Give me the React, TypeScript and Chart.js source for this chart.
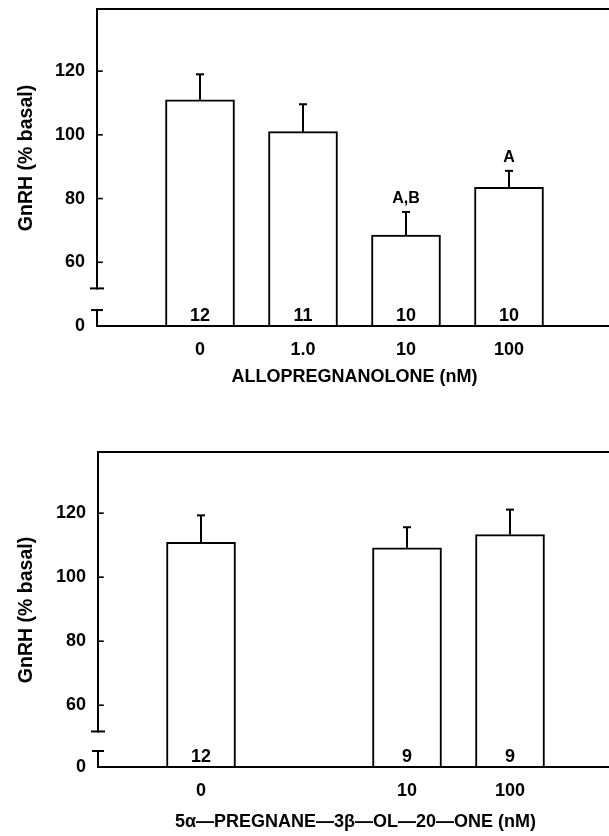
import React, { useEffect, useRef } from 'react';
import { Chart, registerables } from 'chart.js';

Chart.register(...registerables);

// ---------- data ----------
const TOP_CATEGORIES = ['', '0', '1.0', '10', '100', ''];
const TOP_MEANS = [null, 111, 101, 68.5, 83.5, null];
const TOP_SEM = [null, 8, 8.6, 7.3, 5.2, null];
const TOP_N = ['', '12', '11', '10', '10', ''];
const TOP_SIG = ['', '', '', 'A,B', 'A', ''];
const TOP_XTITLE = 'ALLOPREGNANOLONE (nM)';

const BOT_CATEGORIES = ['', '0', '', '10', '100', ''];
const BOT_MEANS = [null, 110.9, null, 109.2, 113.3, null];
const BOT_SEM = [null, 8.4, null, 6.4, 7.8, null];
const BOT_N = ['', '12', '', '9', '9', ''];
const BOT_SIG = ['', '', '', '', '', ''];
const BOT_XTITLE = '5α—PREGNANE—3β—OL—20—ONE (nM)';

const Y_TICKS = [0, 60, 80, 100, 120];
const Y_TITLE = 'GnRH (% basal)';
const BREAK_LOW = 5; // top of the lower axis segment
const BREAK_HIGH = 51.8; // bottom of the upper axis segment

const FONT = "'Liberation Sans', Arial, sans-serif";
const WEIGHT = 'bold';

type Panel = {
  categories: string[];
  means: (number | null)[];
  sem: (number | null)[];
  n: string[];
  sig: string[];
  xTitle: string;
  shift: number;
  yMax: number;
  width: number;
  height: number;
  areaLeft: number;
  areaTop: number;
  xAxisHeight: number;
  titlePadBottom: number;
  yTitleX: number;
  yTitleY: number;
  top: number;
};

const PANELS: Panel[] = [
  {
    categories: TOP_CATEGORIES, means: TOP_MEANS, sem: TOP_SEM, n: TOP_N, sig: TOP_SIG,
    xTitle: TOP_XTITLE, shift: 40, yMax: 139.5,
    width: 612, height: 418, areaLeft: 97, areaTop: 9, xAxisHeight: 92, titlePadBottom: 30,
    yTitleX: 27, yTitleY: 158, top: 0,
  },
  {
    categories: BOT_CATEGORIES, means: BOT_MEANS, sem: BOT_SEM, n: BOT_N, sig: BOT_SIG,
    xTitle: BOT_XTITLE, shift: 40.7, yMax: 139.1,
    width: 613, height: 418, areaLeft: 98, areaTop: 34, xAxisHeight: 69, titlePadBottom: 3.5,
    yTitleX: 27, yTitleY: 192, top: 418,
  },
];

const brokenAxisPlugin = {
  id: 'brokenAxis',
  afterDatasetsDraw(chart: any, _args: any, opts: any) {
    const p: Panel = opts.panel;
    const { ctx, chartArea, scales } = chart;
    const y = scales.y;
    const toAx = (v: number) => (v <= BREAK_LOW ? v : v - p.shift);
    const ax = chartArea.left;
    const line = (x1: number, y1: number, x2: number, y2: number) => {
      ctx.beginPath();
      ctx.moveTo(x1, y1);
      ctx.lineTo(x2, y2);
      ctx.stroke();
    };
    ctx.save();
    ctx.strokeStyle = '#000';
    ctx.fillStyle = '#000';
    ctx.lineCap = 'square';
    ctx.lineWidth = 2;
    line(ax, chartArea.top, chartArea.right, chartArea.top);
    line(ax, chartArea.bottom, chartArea.right, chartArea.bottom);
    const yHigh = y.getPixelForValue(toAx(BREAK_HIGH));
    const yLow = y.getPixelForValue(toAx(BREAK_LOW));
    line(ax, chartArea.top, ax, yHigh);
    line(ax, yLow, ax, chartArea.bottom);
    line(ax - 6, yHigh, ax + 6, yHigh);
    line(ax - 5, yLow, ax + 5, yLow);
    ctx.lineWidth = 1.6;
    Y_TICKS.filter((v) => v > BREAK_HIGH).forEach((v) => {
      const py = y.getPixelForValue(toAx(v));
      line(ax, py, ax + 5, py);
    });
    const meta = chart.getDatasetMeta(0);
    meta.data.forEach((el: any, i: number) => {
      const m = p.means[i];
      const s = p.sem[i];
      if (m == null || s == null) return;
      const yErr = y.getPixelForValue(toAx(m + s));
      ctx.lineWidth = 2;
      ctx.lineCap = 'butt';
      line(el.x, el.y, el.x, yErr);
      line(el.x - 4, yErr, el.x + 4, yErr);
      ctx.textAlign = 'center';
      ctx.textBaseline = 'alphabetic';
      ctx.font = `${WEIGHT} 18px ${FONT}`;
      if (p.n[i]) ctx.fillText(p.n[i], el.x, chartArea.bottom - 5.5);
      if (p.sig[i]) {
        ctx.font = `${WEIGHT} 16px ${FONT}`;
        ctx.fillText(p.sig[i], el.x, yErr - 9);
      }
    });
    ctx.translate(p.yTitleX, p.yTitleY);
    ctx.rotate(-Math.PI / 2);
    ctx.textAlign = 'center';
    ctx.textBaseline = 'middle';
    ctx.font = `${WEIGHT} 19.5px ${FONT}`;
    ctx.fillText(Y_TITLE, 0, 0);
    ctx.restore();
  },
};

const zeroPadding = (scale: any) => {
  scale.paddingLeft = 0;
  scale.paddingRight = 0;
  scale.paddingTop = 0;
  scale.paddingBottom = 0;
};

function PanelChart({ p }: { p: Panel }) {
  const ref = useRef<HTMLCanvasElement | null>(null);
  useEffect(() => {
    if (!ref.current) return;
    const toAx = (v: number) => (v <= BREAK_LOW ? v : v - p.shift);
    const chart = new Chart(ref.current, {
      type: 'bar',
      data: {
        labels: p.categories,
        datasets: [
          {
            data: p.means.map((m) => (m == null ? null : toAx(m))) as any,
            backgroundColor: '#fff',
            borderColor: '#000',
            borderWidth: 2,
            borderSkipped: 'start',
            barThickness: 69,
          },
        ],
      },
      options: {
        animation: false,
        responsive: false,
        devicePixelRatio: 1,
        events: [],
        layout: { padding: { top: p.areaTop, left: 0, right: 0, bottom: 0 } },
        plugins: {
          legend: { display: false },
          tooltip: { enabled: false },
          brokenAxis: { panel: p },
        } as any,
        scales: {
          x: {
            type: 'category',
            offset: false,
            grid: { display: false, drawTicks: false },
            border: { display: false },
            ticks: {
              color: '#000',
              font: { family: FONT, size: 18, weight: WEIGHT },
              padding: 13,
              maxRotation: 0,
              autoSkip: false,
            },
            title: {
              display: true,
              text: p.xTitle,
              color: '#000',
              font: { family: FONT, size: 18, weight: WEIGHT },
              padding: { top: 0, bottom: p.titlePadBottom },
            },
            afterFit: (scale: any) => {
              scale.height = p.xAxisHeight;
              zeroPadding(scale);
            },
          },
          y: {
            type: 'linear',
            min: 0,
            max: toAx(p.yMax),
            grid: { display: false, drawTicks: false },
            border: { display: false },
            ticks: {
              color: '#000',
              font: { family: FONT, size: 18, weight: WEIGHT },
              padding: 12,
              callback: (_v: any, idx: number) => String(Y_TICKS[idx]),
            },
            afterBuildTicks: (scale: any) => {
              scale.ticks = Y_TICKS.map((v) => ({ value: toAx(v) }));
            },
            afterFit: (scale: any) => {
              scale.width = p.areaLeft;
              zeroPadding(scale);
            },
          },
        },
      },
      plugins: [brokenAxisPlugin],
    });
    return () => chart.destroy();
  }, [p]);
  return (
    <canvas
      ref={ref}
      width={p.width}
      height={p.height}
      style={{ position: 'absolute', left: 0, top: p.top, width: p.width, height: p.height }}
    />
  );
}

export default function App() {
  return (
    <div
      style={{
        position: 'fixed',
        left: 0,
        top: 0,
        width: 609,
        height: 836,
        overflow: 'hidden',
        background: '#fff',
      }}
    >
      {PANELS.map((p, i) => (
        <PanelChart key={i} p={p} />
      ))}
    </div>
  );
}
